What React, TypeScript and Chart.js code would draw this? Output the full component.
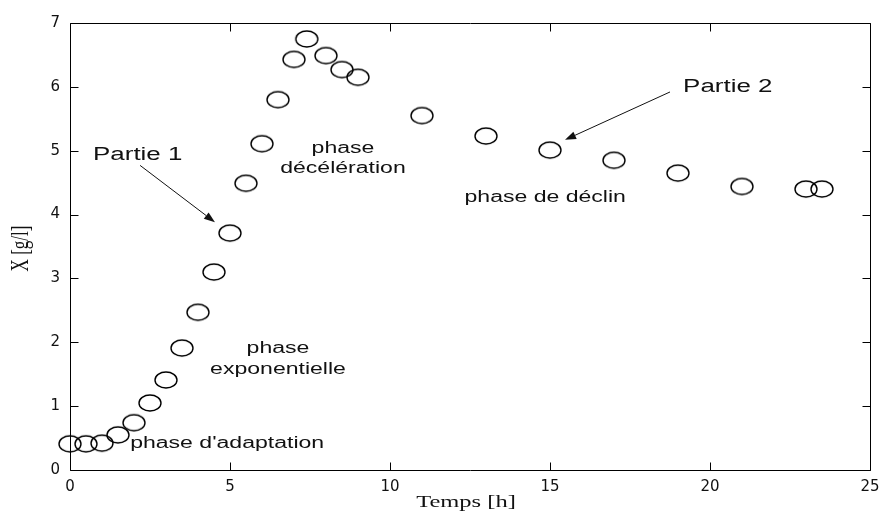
import React, { useEffect, useRef } from "react";
import { Chart, registerables } from "chart.js";

Chart.register(...registerables);

// Data
const timeH = [0, 0.5, 1, 1.5, 2, 2.5, 3, 3.5, 4, 4.5, 5, 5.5, 6, 6.5, 7, 7.4, 8, 8.5, 9, 11, 13, 15, 17, 19, 21, 23, 23.5];
const biomass = [0.41, 0.41, 0.42, 0.55, 0.74, 1.05, 1.41, 1.91, 2.47, 3.1, 3.71, 4.49, 5.11, 5.8, 6.43, 6.75, 6.49, 6.27, 6.15, 5.55, 5.23, 5.01, 4.85, 4.65, 4.44, 4.4, 4.4];
const xTicks = [0, 5, 10, 15, 20, 25];
const yTicks = [0, 1, 2, 3, 4, 5, 6, 7];
const xTitle = "Temps [h]";
const yTitle = "X [g/l]";

// Annotation texts anchored in data coordinates
const labelTexts = ["phase d'adaptation", "phase", "exponentielle", "phase", "décélération", "phase de déclin", "Partie 1", "Partie 2"];
const labelX = [1.88, 6.5, 6.5, 8.53, 8.53, 14.85, 0.72, 19.16];
const labelY = [0.41, 1.90, 1.57, 5.04, 4.72, 4.26, 4.93, 5.99];
const labelAlign = ["left", "center", "center", "center", "center", "center", "left", "left"];
const labelSize = [16, 16, 16, 16, 16, 16, 18, 18];
const arrowFrom = [[2.19, 4.77], [18.75, 5.92]];
const arrowTo = [[4.53, 3.88], [15.47, 5.17]];

const STRETCH = 1.44;
const SANS = "'Liberation Sans', Arial, sans-serif";
const SERIF = "'Liberation Serif', 'Times New Roman', serif";

function makeMarker(): HTMLCanvasElement {
  const c = document.createElement("canvas");
  c.width = 26;
  c.height = 20;
  const g = c.getContext("2d")!;
  g.strokeStyle = "#000";
  g.lineWidth = 1.4;
  g.beginPath();
  g.ellipse(13, 10, 11, 8, 0, 0, Math.PI * 2);
  g.stroke();
  return c;
}

const framePlugin = {
  id: "matlabFrame",
  beforeDatasetsDraw(chart: any) {
    const { ctx, chartArea: a, scales } = chart;
    const xs = scales.x;
    const ys = scales.y;
    ctx.save();
    ctx.strokeStyle = "#000";
    ctx.lineWidth = 1;
    const L = Math.round(a.left) + 0.5;
    const R = Math.round(a.right) + 0.5;
    const T = Math.round(a.top) + 0.5;
    const B = Math.round(a.bottom) + 0.5;
    ctx.beginPath();
    ctx.rect(L, T, R - L, B - T);
    ctx.stroke();
    const tl = 8;
    ctx.beginPath();
    xTicks.forEach((v) => {
      const px = Math.round(xs.getPixelForValue(v)) + 0.5;
      ctx.moveTo(px, B);
      ctx.lineTo(px, B - tl);
      ctx.moveTo(px, T);
      ctx.lineTo(px, T + tl);
    });
    yTicks.forEach((v) => {
      const py = Math.round(ys.getPixelForValue(v)) + 0.5;
      ctx.moveTo(L, py);
      ctx.lineTo(L + tl, py);
      ctx.moveTo(R, py);
      ctx.lineTo(R - tl, py);
    });
    ctx.stroke();
    ctx.restore();
  },
};

const annotationPlugin = {
  id: "phaseAnnotations",
  afterDraw(chart: any) {
    const { ctx, scales, chartArea: a } = chart;
    const xs = scales.x;
    const ys = scales.y;
    ctx.save();
    ctx.fillStyle = "#111";
    ctx.strokeStyle = "#111";
    ctx.textBaseline = "middle";
    labelTexts.forEach((t, i) => {
      const px = xs.getPixelForValue(labelX[i]);
      const py = ys.getPixelForValue(labelY[i]);
      ctx.save();
      ctx.font = `${labelSize[i]}px ${SANS}`;
      ctx.translate(px, py);
      ctx.scale(STRETCH, 1);
      ctx.textAlign = labelAlign[i] as CanvasTextAlign;
      ctx.fillText(t, 0, 0);
      ctx.restore();
    });
    arrowFrom.forEach((f, i) => {
      const x1 = xs.getPixelForValue(f[0]);
      const y1 = ys.getPixelForValue(f[1]);
      const x2 = xs.getPixelForValue(arrowTo[i][0]);
      const y2 = ys.getPixelForValue(arrowTo[i][1]);
      const ang = Math.atan2(y2 - y1, x2 - x1);
      const hl = 11;
      const hw = 4;
      const bx = x2 - hl * Math.cos(ang);
      const by = y2 - hl * Math.sin(ang);
      ctx.lineWidth = 1;
      ctx.beginPath();
      ctx.moveTo(x1, y1);
      ctx.lineTo(bx, by);
      ctx.stroke();
      ctx.beginPath();
      ctx.moveTo(x2, y2);
      ctx.lineTo(bx + hw * Math.sin(ang), by - hw * Math.cos(ang));
      ctx.lineTo(bx - hw * Math.sin(ang), by + hw * Math.cos(ang));
      ctx.closePath();
      ctx.fill();
    });
    // axis titles (horizontally stretched like the reference)
    ctx.font = `17px ${SERIF}`;
    ctx.textAlign = "center";
    ctx.save();
    ctx.translate((a.left + a.right) / 2 - 4, 503);
    ctx.scale(STRETCH, 1);
    ctx.fillText(xTitle, 0, 0);
    ctx.restore();
    ctx.save();
    ctx.translate(22, (a.top + a.bottom) / 2 + 2);
    ctx.scale(STRETCH, 1);
    ctx.rotate(-Math.PI / 2);
    ctx.fillText(yTitle, 0, 0);
    ctx.restore();
    ctx.restore();
  },
};

export default function App() {
  const ref = useRef<HTMLCanvasElement | null>(null);
  useEffect(() => {
    if (!ref.current) return;
    const marker = makeMarker();
    const points = timeH.map((t, i) => ({ x: t, y: biomass[i] }));
    const tickFont = { family: "'DejaVu Sans', sans-serif", size: 15 };
    const chart = new Chart(ref.current, {
      type: "scatter",
      data: {
        datasets: [
          {
            label: "X",
            data: points,
            pointStyle: marker as any,
            pointRadius: 10,
            showLine: false,
            clip: false as any,
          },
        ],
      },
      options: {
        responsive: false,
        animation: false,
        layout: { padding: { left: 0, right: 12, top: 23, bottom: 0 } },
        plugins: { legend: { display: false }, tooltip: { enabled: false } },
        scales: {
          x: {
            type: "linear",
            min: 0,
            max: 25,
            grid: { display: false, drawTicks: false },
            border: { display: false },
            ticks: { stepSize: 5, color: "#111", font: tickFont, padding: 8, maxRotation: 0 },
            title: { display: false, text: xTitle },
            afterFit(s: any) {
              s.height = 48;
              s.paddingLeft = 0;
              s.paddingRight = 0;
            },
          },
          y: {
            type: "linear",
            min: 0,
            max: 7,
            grid: { display: false, drawTicks: false },
            border: { display: false },
            ticks: { stepSize: 1, color: "#111", font: tickFont, padding: 10 },
            title: { display: false, text: yTitle },
            afterFit(s: any) {
              s.width = 70;
              s.paddingTop = 0;
              s.paddingBottom = 0;
            },
          },
        },
      },
      plugins: [framePlugin, annotationPlugin],
    });
    return () => chart.destroy();
  }, []);
  return (
    <div style={{ position: "absolute", left: 0, top: 0, width: 882, height: 518, background: "#fff" }}>
      <canvas ref={ref} width={882} height={518} />
    </div>
  );
}
